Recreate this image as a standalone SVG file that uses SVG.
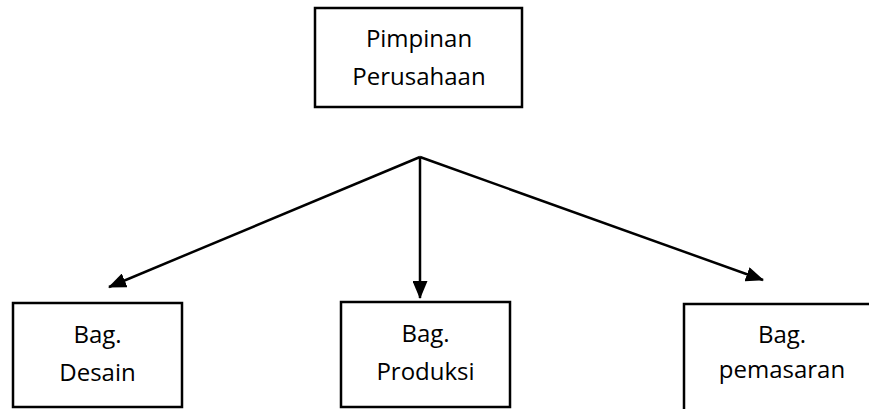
<svg xmlns="http://www.w3.org/2000/svg" width="869" height="409" viewBox="0 0 869 409">
<style>
.box{fill:#fff;stroke:#000;stroke-width:2.5}
.lbl{font-family:"Open Sans","Noto Sans",sans-serif;font-size:24px;fill:#000;text-anchor:middle}
.con{stroke:#000;stroke-width:2.5;fill:none}
</style>
<defs>
<marker id="ah" markerUnits="userSpaceOnUse" markerWidth="18" markerHeight="15" refX="17" refY="7.5" orient="auto" viewBox="0 0 18 15">
<path d="M0,0 L18,7.5 L0,15 z" fill="#000"/>
</marker>
</defs>
<rect width="869" height="409" fill="#fff"/>
<g id="connectors">
<line class="con" x1="420" y1="157" x2="109" y2="287" marker-end="url(#ah)"/>
<line class="con" x1="420" y1="157" x2="420" y2="298" marker-end="url(#ah)"/>
<line class="con" x1="420" y1="157" x2="763" y2="280" marker-end="url(#ah)"/>
</g>
<g id="pimpinan">
<rect class="box" x="315" y="8" width="207" height="99"/>
<text class="lbl" x="419" y="47">Pimpinan</text>
<text class="lbl" x="419" y="85">Perusahaan</text>
</g>
<g id="desain">
<rect class="box" x="13" y="303" width="169" height="104"/>
<text class="lbl" x="97.5" y="343">Bag.</text>
<text class="lbl" x="97.5" y="381">Desain</text>
</g>
<g id="produksi">
<rect class="box" x="341" y="302" width="169" height="105"/>
<text class="lbl" x="425.5" y="342">Bag.</text>
<text class="lbl" x="425.5" y="380">Produksi</text>
</g>
<g id="pemasaran">
<rect class="box" x="684" y="304" width="220" height="130"/>
<text class="lbl" x="782" y="343">Bag.</text>
<text class="lbl" x="782" y="378">pemasaran</text>
</g>
</svg>
